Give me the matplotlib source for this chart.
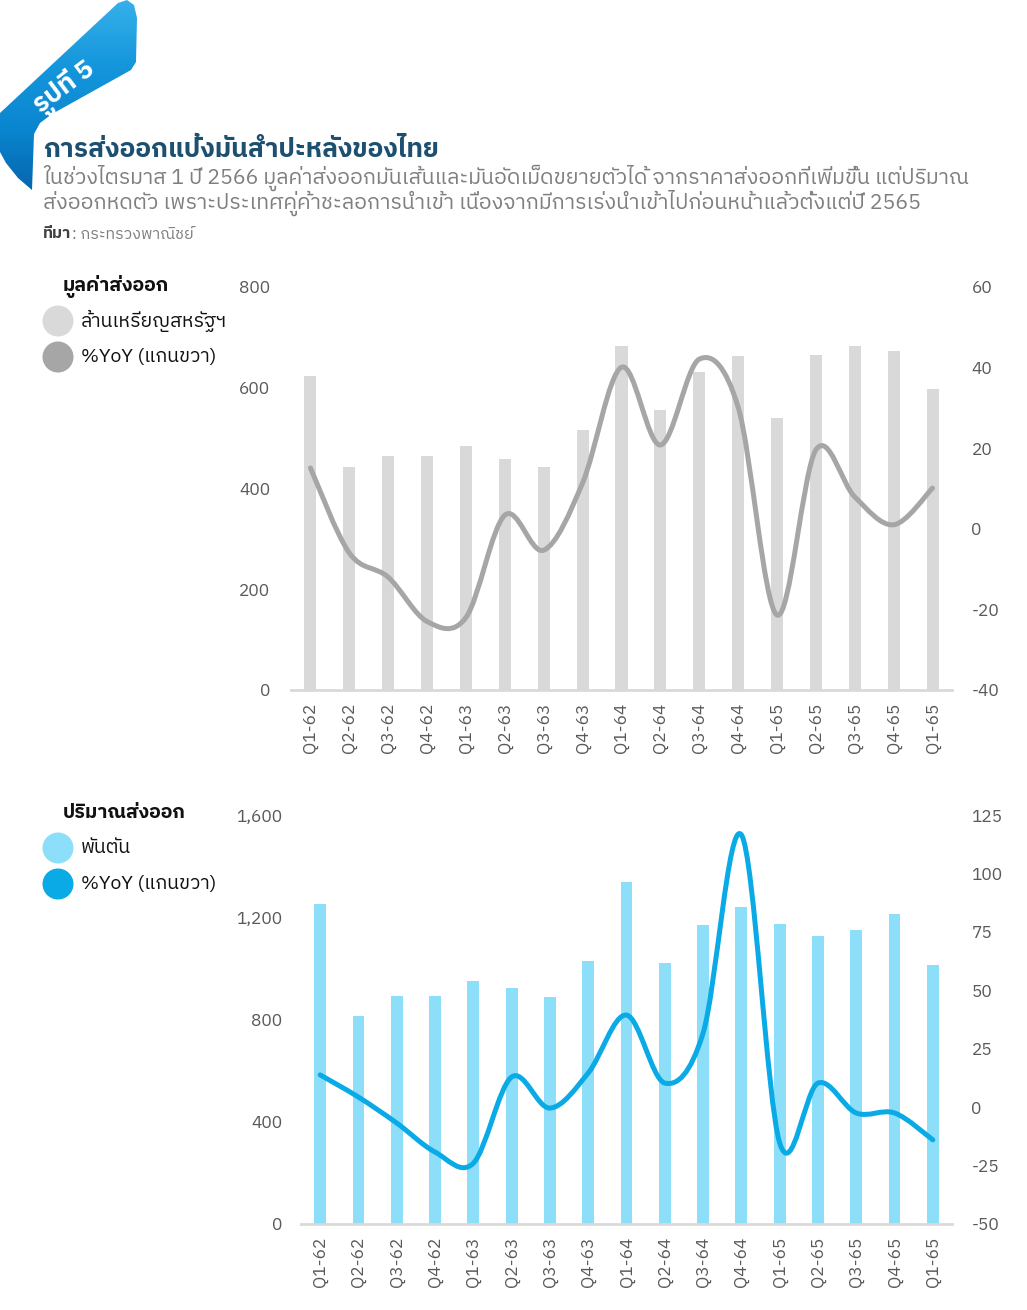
import numpy as np
import matplotlib
matplotlib.use("Agg")
import matplotlib.pyplot as plt
from matplotlib import font_manager
from matplotlib.ft2font import FT2Font
from matplotlib.path import Path
from matplotlib.patches import PathPatch, Polygon, Circle
from matplotlib.colors import LinearSegmentedColormap

# ---- data ----
quarters = ["Q1-62", "Q2-62", "Q3-62", "Q4-62", "Q1-63", "Q2-63", "Q3-63", "Q4-63",
            "Q1-64", "Q2-64", "Q3-64", "Q4-64", "Q1-65", "Q2-65", "Q3-65", "Q4-65", "Q1-65"]

value_musd = [623, 443, 464, 464, 484, 459, 443, 516, 683, 556, 631, 663, 540, 665, 683, 673, 597]
value_yoy = [15.1, -6.0, -12.0, -23.0, -22.0, 3.4, -5.3, 11.4, 40.1, 20.8, 42.1, 30.2,
             -21.4, 19.6, 7.9, 1.0, 10.1]

volume_kt = [1252, 814, 892, 892, 951, 923, 888, 1029, 1338, 1021, 1170, 1240, 1174,
             1127, 1150, 1213, 1013]
volume_yoy = [13.8, 4.3, -6.8, -19.2, -24.0, 12.9, -0.4, 14.6, 39.4, 10.3, 31.7, 116.5,
              -15.3, 10.3, -2.5, -2.5, -14.0]

W, H = 1027, 1310


def find_thai_font():
    names = []
    for f in font_manager.fontManager.ttflist:
        try:
            if 0x0E01 in FT2Font(f.fname).get_charmap():
                names.append(f.name)
        except Exception:
            pass
    for pref in ("Thai", "Sarabun", "Kanit", "Prompt"):
        for n in names:
            if pref in n:
                return n
    return names[0] if names else None


thai = find_thai_font()
plt.rcParams["font.family"] = ([thai] if thai else []) + ["DejaVu Sans"]


def smooth_path(xs, ys):
    # catmull-rom style bezier, like a spreadsheet "smoothed line"
    pts = np.column_stack([xs, ys]).astype(float)
    n = len(pts)
    verts = [pts[0]]
    codes = [Path.MOVETO]
    for i in range(n - 1):
        p0 = pts[max(i - 1, 0)]
        p1 = pts[i]
        p2 = pts[i + 1]
        p3 = pts[min(i + 2, n - 1)]
        c1 = p1 + (p2 - p0) / 6.0
        c2 = p2 - (p3 - p1) / 6.0
        verts += [c1, c2, p2]
        codes += [Path.CURVE4] * 3
    return Path(verts, codes)


fig = plt.figure(figsize=(W / 100, H / 100), dpi=100)
fig.patch.set_facecolor("white")

# overlay in pixel coordinates for the decorations and headings
deco = fig.add_axes([0, 0, 1, 1], zorder=0)
deco.set_xlim(0, W)
deco.set_ylim(H, 0)
deco.axis("off")

tick_col = "#595959"
axis_col = "#d9d9d9"


def panel(rect, bars, yoy, bar_col, line_col, ylim, yticks, yfmt, y2lim, y2ticks,
          lpad, rpad):
    left, top, right, bottom = rect
    ax = fig.add_axes([left / W, 1 - bottom / H, (right - left) / W, (bottom - top) / H],
                      zorder=2)
    x = np.arange(len(quarters))
    ax.bar(x, bars, width=0.31, color=bar_col, zorder=2)
    ax.set_xlim(-0.5, len(quarters) - 0.5)
    ax.set_ylim(*ylim)
    ax.set_yticks(yticks)
    ax.set_yticklabels([yfmt(v) for v in yticks])
    ax.set_xticks(x)
    ax.set_xticklabels(quarters, rotation=90)
    for s in ("top", "right", "left"):
        ax.spines[s].set_visible(False)
    ax.spines["bottom"].set_color(axis_col)
    ax.spines["bottom"].set_linewidth(2)
    ax.tick_params(axis="both", length=0, labelsize=12.5, colors=tick_col)
    ax.tick_params(axis="y", pad=lpad)
    ax.tick_params(axis="x", pad=9)
    ax.patch.set_alpha(0)

    ax2 = ax.twinx()
    ax2.set_ylim(*y2lim)
    ax2.set_yticks(y2ticks)
    ax2.set_yticklabels([str(v) for v in y2ticks])
    for s in ax2.spines.values():
        s.set_visible(False)
    ax2.tick_params(axis="y", length=0, labelsize=12.5, colors=tick_col, pad=rpad)
    ax2.add_patch(PathPatch(smooth_path(x, yoy), fill=False, edgecolor=line_col,
                            linewidth=3.6, capstyle="round", joinstyle="round", zorder=3))
    ax2.set_xlim(-0.5, len(quarters) - 0.5)
    return ax, ax2


panel((291, 287, 952, 690), value_musd, value_yoy, "#d9d9d9", "#a6a6a6",
      (0, 800), [0, 200, 400, 600, 800], lambda v: f"{v}",
      (-40, 60), [-40, -20, 0, 20, 40, 60], 15, 14)

panel((301, 815, 952, 1224), volume_kt, volume_yoy, "#8ddff9", "#0aaae6",
      (0, 1600), [0, 400, 800, 1200, 1600], lambda v: f"{v:,}",
      (-50, 125), [-50, -25, 0, 25, 50, 75, 100, 125], 13.5, 14)

# ---- ribbon badge ----
ribbon = [(0, 113), (118, 3), (127, 0), (134, 5), (137, 18), (136, 62), (131, 70),
          (52, 114), (40, 123), (34, 134), (32, 190), (18, 178), (6, 163), (0, 152)]
rib_patch = Polygon(ribbon, closed=True, facecolor="none", edgecolor="none")
deco.add_patch(rib_patch)
grad = np.linspace(0, 1, 200).reshape(-1, 1)
rib_cmap = LinearSegmentedColormap.from_list(
    "rib", ["#36b0ea", "#1597dc", "#0a86d0", "#0565ad"])
img = deco.imshow(grad, cmap=rib_cmap, extent=(0, 140, 192, 0), aspect="auto",
                  interpolation="bilinear", zorder=1)
img.set_clip_path(rib_patch)
deco.set_xlim(0, W)
deco.set_ylim(H, 0)
deco.text(64, 88, "รูปที่ 5", color="white", fontsize=19, fontweight="bold",
          rotation=37, ha="center", va="center", rotation_mode="anchor", zorder=3)

# ---- titles ----
deco.text(43, 150, "การส่งออกแป้งมันสำปะหลังของไทย", color="#1c4f70",
          fontsize=19, fontweight="bold", ha="left", va="center")
deco.text(43, 178, "ในช่วงไตรมาส 1 ปี 2566 มูลค่าส่งออกมันเส้นและมันอัดเม็ดขยายตัวได้ "
          "จากราคาส่งออกที่เพิ่มขึ้น แต่ปริมาณ", color="#7f7f7f", fontsize=15.4,
          ha="left", va="center")
deco.text(43, 203, "ส่งออกหดตัว เพราะประเทศคู่ค้าชะลอการนำเข้า "
          "เนื่องจากมีการเร่งนำเข้าไปก่อนหน้าแล้วตั้งแต่ปี 2565", color="#7f7f7f",
          fontsize=15.4, ha="left", va="center")
src = deco.text(43, 234, "ที่มา", color="#404040", fontsize=11.5, fontweight="bold",
                ha="left", va="center")
fig.canvas.draw()
bb = src.get_window_extent()
deco.text(bb.x1 + 1, 234, ": กระทรวงพาณิชย์", color="#7f7f7f", fontsize=11.5,
          ha="left", va="center")


# ---- legends ----
def legend(y0, title, items):
    deco.text(63, y0, title, color="#111111", fontsize=14, fontweight="bold",
              ha="left", va="center")
    for i, (lab, col) in enumerate(items):
        yy = y0 + 35 + 36 * i
        deco.add_patch(Circle((58, yy), 15.5, facecolor=col, edgecolor="none"))
        deco.text(81, yy, lab, color="#111111", fontsize=14, ha="left", va="center")


legend(286, "มูลค่าส่งออก", [("ล้านเหรียญสหรัฐฯ", "#d9d9d9"), ("%YoY (แกนขวา)", "#a6a6a6")])
legend(813, "ปริมาณส่งออก", [("พันตัน", "#8ddff9"), ("%YoY (แกนขวา)", "#0aaae6")])

fig.savefig("out.png", dpi=100)
